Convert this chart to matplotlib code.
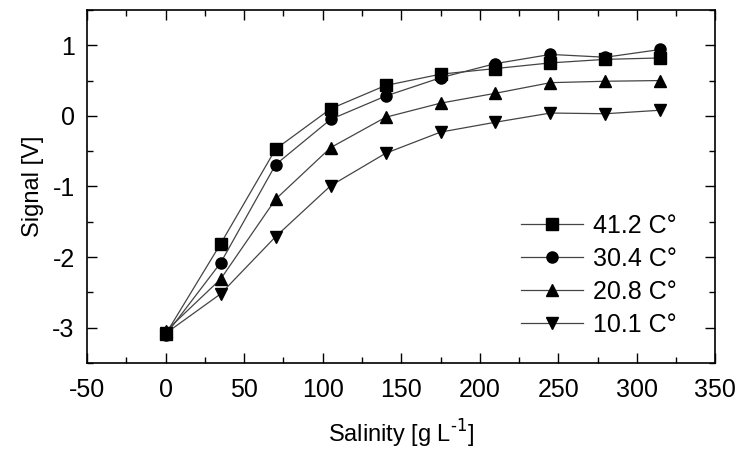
import numpy as np
import matplotlib.pyplot as plt
from matplotlib.ticker import MultipleLocator

plt.rcParams['font.family'] = ['Liberation Sans', 'DejaVu Sans']
plt.rcParams['axes.unicode_minus'] = False

# salinity steps [g/L]
salinity = [0, 35, 70, 105, 140, 175, 210, 245, 280, 315]

# signal [V] per temperature
sig_41 = [-3.09, -1.81, -0.47, 0.10, 0.43, 0.59, 0.67, 0.75, 0.80, 0.82]
sig_30 = [-3.10, -2.08, -0.69, -0.05, 0.28, 0.54, 0.74, 0.87, 0.83, 0.94]
sig_20 = [-3.05, -2.31, -1.18, -0.45, -0.02, 0.18, 0.32, 0.47, 0.49, 0.50]
sig_10 = [-3.08, -2.52, -1.71, -0.99, -0.53, -0.23, -0.09, 0.04, 0.03, 0.08]

labels = ['41.2 C°', '30.4 C°', '20.8 C°', '10.1 C°']
markers = ['s', 'o', '^', 'v']

fig = plt.figure(figsize=(7.39, 4.51), dpi=100)
ax = fig.add_axes([0.118, 0.195, 0.850, 0.783])

for ys, lab, m in zip([sig_41, sig_30, sig_20, sig_10], labels, markers):
    ax.plot(salinity, ys, color='#444444', lw=0.9, marker=m, ms=8,
            mfc='black', mec='black', label=lab)

ax.set_xlim(-50, 350)
ax.set_ylim(-3.5, 1.5)
ax.xaxis.set_major_locator(MultipleLocator(50))
ax.xaxis.set_minor_locator(MultipleLocator(25))
ax.yaxis.set_major_locator(MultipleLocator(1))
ax.yaxis.set_minor_locator(MultipleLocator(0.5))
ax.tick_params(which='both', direction='in', top=True, right=True, labelsize=18, width=1)
ax.tick_params(which='major', length=7)
ax.tick_params(axis='x', which='major', pad=11)
ax.tick_params(axis='y', which='major', pad=9)
ax.tick_params(which='minor', length=4)
for s in ax.spines.values():
    s.set_linewidth(1.2)

ax.set_xlabel('Salinity [g L$^{\\text{-1}}$]', fontsize=17, labelpad=11)
ax.set_ylabel('Signal [V]', fontsize=17, labelpad=6)

ax.legend(loc='lower right', frameon=False, fontsize=18, handlelength=2.5,
          handletextpad=0.4, labelspacing=0.36, bbox_to_anchor=(0.975, 0.01))

fig.savefig('out.png', dpi=100)
